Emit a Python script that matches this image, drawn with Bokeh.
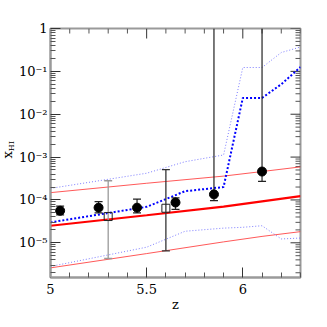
import numpy as np
from bokeh.plotting import figure
from bokeh.layouts import row
from bokeh.models import Range1d, FixedTicker, CustomJSTickFormatter, Div
from bokeh.embed import file_html
from bokeh.resources import INLINE

# ---- data ----
z_lines = [5.0, 5.5, 5.7, 5.9, 6.0, 6.1, 6.2, 6.3]
blue_mid = [3.0e-5, 6.9e-5, 1.6e-4, 2.0e-4, 0.024, 0.024, 0.050, 0.126]
blue_hi = [1.86e-4, 4.2e-4, 7.8e-4, 1.12e-3, 0.123, 0.123, 0.275, 0.37]
blue_lo = [2.8e-6, 7.9e-6, 1.86e-5, 2.2e-5, 2.3e-5, 2.5e-5, 1.23e-5, 1.29e-5]

z_red = [5.0, 5.5, 5.9, 6.1, 6.3]
red_mid = [2.5e-5, 4.4e-5, 7.0e-5, 9.3e-5, 1.23e-4]
red_hi = [1.48e-4, 2.45e-4, 3.6e-4, 4.6e-4, 5.9e-4]
red_lo = [2.6e-6, 5.6e-6, 1.05e-5, 1.41e-5, 1.82e-5]

z_circ = [5.05, 5.25, 5.45, 5.65, 5.85, 6.10]
y_circ = [5.6e-5, 6.6e-5, 6.6e-5, 8.7e-5, 1.35e-4, 4.6e-4]
lo_circ = [4.5e-5, 5.0e-5, 5.0e-5, 6.0e-5, 9.6e-5, 2.7e-4]
hi_circ = [7.2e-5, 9.1e-5, 1.05e-4, 1.12e-4, 1.0, 1.0]

z_sq = [5.30, 5.60]
y_sq = [4.1e-5, 6.4e-5]
lo_sq = [4.3e-6, 6.5e-6]
hi_sq = [2.8e-4, 5.1e-4]
sq_err_colors = ["#9a9a9a", "#333333"]

x_major = [5.0, 5.5, 6.0]
x_minor = [5.1, 5.2, 5.3, 5.4, 5.6, 5.7, 5.8, 5.9, 6.1, 6.2, 6.3]
y_major = [1e-5, 1e-4, 1e-3, 1e-2, 1e-1, 1.0]
y_minor = [m * 10.0 ** e for e in range(-6, 0) for m in range(2, 10)]

X0, X1 = 5.0, 6.3
Y0, Y1 = 1.55e-6, 1.0

FONT = "DejaVu Serif"
AXCOL = "#9a9a9a"
TICKCOL = "#333333"
DIVW = 14

p = figure(width=327 - DIVW, height=327, y_axis_type="log",
           x_range=Range1d(X0, X1), y_range=Range1d(Y0, Y1),
           output_backend="svg", toolbar_location=None, margin=0,
           min_border_left=50 - DIVW, min_border_right=27, min_border_top=28, min_border_bottom=50)
p.grid.visible = False
p.outline_line_color = AXCOL
p.outline_line_width = 2
p.background_fill_color = "white"

fmt = CustomJSTickFormatter(code="""
const e = Math.round(Math.log10(tick));
if (e === 0) return "1";
const sup = {"-":"\u207b","0":"\u2070","1":"\u00b9","2":"\u00b2","3":"\u00b3","4":"\u2074","5":"\u2075","6":"\u2076","7":"\u2077","8":"\u2078","9":"\u2079"};
return "10" + String(e).split("").map(c => sup[c]).join("");
""")

for ax in (p.xaxis[0], p.yaxis[0]):
    ax.axis_line_color = AXCOL
    ax.axis_line_width = 2
    ax.major_tick_in = 10
    ax.major_tick_out = 0
    ax.minor_tick_in = 5
    ax.minor_tick_out = 0
    ax.major_tick_line_color = TICKCOL
    ax.minor_tick_line_color = "#555555"
    ax.major_label_text_font = FONT
    ax.major_label_text_font_size = "13px"
    ax.major_label_text_color = "black"

p.xaxis.ticker = FixedTicker(ticks=x_major, minor_ticks=x_minor)
p.yaxis.ticker = FixedTicker(ticks=y_major, minor_ticks=y_minor)
p.yaxis.formatter = fmt
p.xaxis.major_label_standoff = 6
p.yaxis.major_label_standoff = 3
p.xaxis.axis_label = "z"
p.xaxis.axis_label_text_font = FONT
p.xaxis.axis_label_text_font_size = "13px"
p.xaxis.axis_label_text_font_style = "normal"
p.xaxis.axis_label_text_color = "black"
p.xaxis.axis_label_standoff = 0

# ticks on the top and right frame edges (screen-length rays)
p.ray(x=x_major, y=[Y1] * len(x_major), length=10, length_units="screen",
      angle=-np.pi / 2, line_color=TICKCOL, line_width=1)
p.ray(x=x_minor, y=[Y1] * len(x_minor), length=5, length_units="screen",
      angle=-np.pi / 2, line_color="#555555", line_width=1)
p.ray(x=[X1] * len(y_major), y=y_major, length=10, length_units="screen",
      angle=np.pi, line_color=TICKCOL, line_width=1)
p.ray(x=[X1] * len(y_minor), y=y_minor, length=5, length_units="screen",
      angle=np.pi, line_color="#555555", line_width=1)

# model lines
p.line(z_red, red_hi, line_color="#ff3030", line_width=1, line_alpha=0.8)
p.line(z_red, red_lo, line_color="#ff3030", line_width=1, line_alpha=0.8)
p.line(z_red, red_mid, line_color="#ff0000", line_width=2.2)
p.line(z_lines, blue_hi, line_color="#6666ff", line_width=1, line_dash="1 2", line_alpha=0.85)
p.line(z_lines, blue_lo, line_color="#6666ff", line_width=1, line_dash="1 2", line_alpha=0.85)
p.line(z_lines, blue_mid, line_color="#0000ff", line_width=2, line_dash="2 2")

# error bars
p.segment(z_sq, lo_sq, z_sq, hi_sq, line_color=sq_err_colors, line_width=1.3)
p.scatter(z_sq, lo_sq, marker="dash", size=8, line_color=sq_err_colors, line_width=1.3)
p.scatter(z_sq, hi_sq, marker="dash", size=8, line_color=sq_err_colors, line_width=1.3)

p.segment(z_circ, lo_circ, z_circ, hi_circ, line_color="#222222", line_width=1.2)
p.scatter(z_circ, lo_circ, marker="dash", size=8, line_color="#222222", line_width=1.2)
capz = [z for z, h in zip(z_circ, hi_circ) if h < 1.0]
caph = [h for h in hi_circ if h < 1.0]
p.scatter(capz, caph, marker="dash", size=8, line_color="#222222", line_width=1.2)

p.scatter(z_circ, y_circ, marker="circle", size=9, fill_color="black", line_color="black")
p.scatter(z_sq, y_sq, marker="square", size=8, fill_color=None, line_color="#222222", line_width=1)

# y-axis title with a real subscript, in a narrow HTML column to the left
ylab = Div(width=DIVW, height=327, margin=0, text=(
    '<div style="position:relative;width:14px;height:327px;">'
    '<span style="position:absolute;left:1px;top:141px;writing-mode:vertical-rl;'
    'transform:rotate(180deg);font-family:\'DejaVu Serif\';font-size:13px;'
    'line-height:13px;color:black;white-space:nowrap;">'
    'x<sub style="font-size:8px;line-height:8px;">HI</sub></span></div>'))

layout = row(ylab, p, spacing=0, margin=0)
open("out.html", "w").write(file_html(layout, INLINE))
